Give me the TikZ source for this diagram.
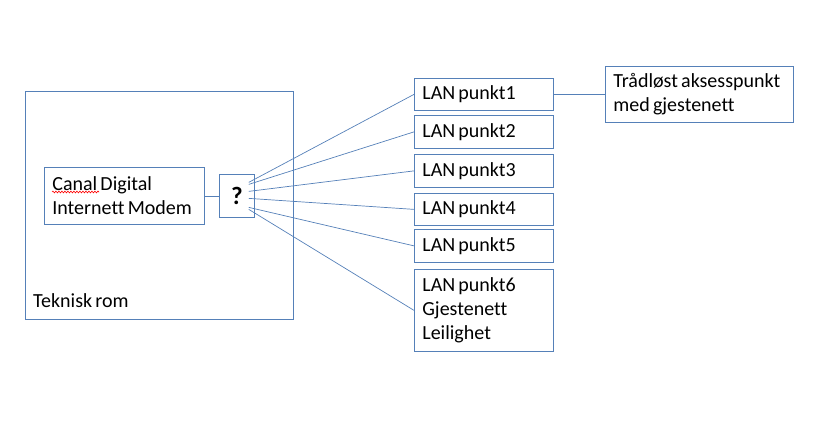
\documentclass[tikz,border=0pt]{standalone}
\usepackage{fontspec}
\setmainfont{Carlito}[Ligatures=NoCommon]
\usetikzlibrary{decorations.pathmorphing}
\definecolor{boxc}{HTML}{5580B8}
\newcommand{\narrowsp}{\spaceskip=0.16em plus 0.05em\relax}
\begin{document}
\begin{tikzpicture}[x=1pt,y=-1pt,
  bx/.style={draw=boxc, line width=0.75pt, rectangle, anchor=north west, inner xsep=8pt, inner ysep=0pt,
     align=left, font=\fontsize{20}{24}\selectfont, execute at begin node=\narrowsp},
  txt/.style={font=\fontsize{20}{24}\selectfont, execute at begin node=\narrowsp},
  wire/.style={draw=boxc, line width=0.7pt}]
\useasboundingbox (0,0) rectangle (828,433);
% room
\node[bx, minimum width=268pt, minimum height=228pt] (room) at (25,91) {};
\node[txt, anchor=west, inner sep=0pt] (roomlbl) at (33,301) {Teknisk rom};
% modem
\node[bx, text width=144pt, minimum height=57pt] (modem) at (44,167) {Canal Digital\\Internett Modem};
\draw[red, line width=0.6pt, decorate, decoration={snake, amplitude=0.9pt, segment length=3pt}] (52,192) -- (99,192);
% switch
\node[bx, inner xsep=0pt, minimum width=35pt, minimum height=43pt, font=\fontsize{25}{28}\selectfont\bfseries, align=center] (q) at (219,174) {?};
\draw[wire] (modem.east) -- (q.west);
% LAN points
\node[bx, text width=123pt, minimum height=32pt] (lan1) at (414,78) {LAN punkt1};
\node[bx, text width=123pt, minimum height=33pt] (lan2) at (414,115) {LAN punkt2};
\node[bx, text width=123pt, minimum height=33pt] (lan3) at (414,154) {LAN punkt3};
\node[bx, text width=123pt, minimum height=32pt] (lan4) at (414,193) {LAN punkt4};
\node[bx, text width=123pt, minimum height=33pt] (lan5) at (414,229) {LAN punkt5};
\node[bx, text width=123pt, minimum height=82pt] (lan6) at (414,269) {LAN punkt6\\Gjestenett\\Leilighet};
% wireless AP
\node[bx, text width=172pt, minimum height=56pt] (ap) at (605,66) {Trådløst aksesspunkt\\med gjestenett};
% connectors
\draw[wire] ([xshift=-6pt,yshift=13.5pt]q.east) -- (lan1.west);
\draw[wire] ([xshift=-6pt,yshift=11.5pt]q.east) -- (lan2.west);
\draw[wire] ([xshift=-6pt,yshift=4.5pt]q.east) -- (lan3.west);
\draw[wire] ([xshift=-6pt,yshift=-2.5pt]q.east) -- (lan4.west);
\draw[wire] ([xshift=-6pt,yshift=-11.5pt]q.east) -- (lan5.west);
\draw[wire] ([xshift=-6pt,yshift=-13.5pt]q.east) -- (lan6.west);
\draw[wire] (lan1.east) -- (ap.west);
\end{tikzpicture}
\end{document}
